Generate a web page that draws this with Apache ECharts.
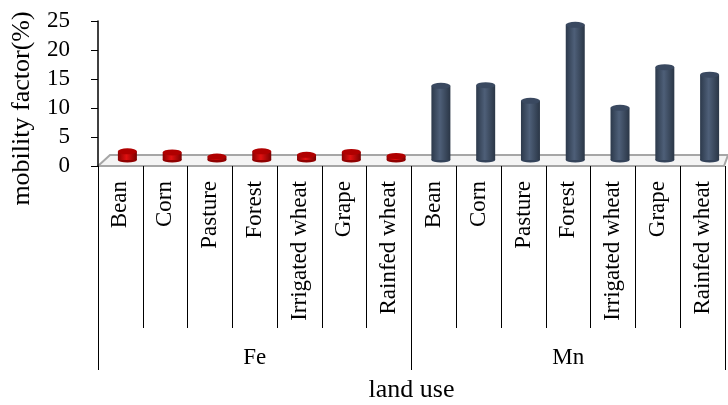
<!DOCTYPE html>
<html>
<head>
<meta charset="utf-8">
<script src="https://cdn.jsdelivr.net/npm/echarts@6/dist/echarts.min.js"></script>
<style>
  html, body { margin: 0; padding: 0; background: #fff; }
  #chart { width: 728px; height: 405px; }
</style>
</head>
<body>
<div id="chart"></div>
<script>
// land use categories (same for both metals)
const landUse = ['Bean', 'Corn', 'Pasture', 'Forest', 'Irrigated wheat', 'Grape', 'Rainfed wheat'];
const metals = ['Fe', 'Mn'];
// mobility factor (%)
const feValues = [1.5, 1.3, 0.6, 1.5, 0.9, 1.4, 0.7];
const mnValues = [12.8, 12.9, 10.2, 23.3, 9.0, 16.0, 14.7];
const yTicks = [0, 5, 10, 15, 20, 25];

const font = 'Liberation Serif';
const categories = landUse.concat(landUse);
const values = feValues.concat(mnValues);

// cylinder colours
const redBody = new echarts.graphic.LinearGradient(0, 0, 1, 0, [
  { offset: 0, color: '#8a0000' }, { offset: 0.45, color: '#e01010' }, { offset: 1, color: '#7a0000' }
]);
const navyBody = new echarts.graphic.LinearGradient(0, 0, 1, 0, [
  { offset: 0, color: '#2c394b' }, { offset: 0.45, color: '#4e5f78' }, { offset: 1, color: '#2a3646' }
]);
const redTop = '#b00000';
const navyTop = '#3a4960';

const bodyData = values.map((v, i) => ({
  value: v,
  itemStyle: { color: i < feValues.length ? redBody : navyBody }
}));
const topData = values.map((v, i) => ({
  value: v,
  itemStyle: { color: i < feValues.length ? redTop : navyTop }
}));
const bottomData = values.map((v, i) => ({
  value: v,
  itemStyle: { color: i < feValues.length ? '#900000' : '#34435a' }
}));

const chart = echarts.init(document.getElementById('chart'));

chart.setOption({
  animation: false,
  textStyle: { fontFamily: font },
  graphic: [
    {
      // floor of the 3D plot
      type: 'polygon',
      z: 0,
      shape: { points: [[98, 166], [110, 155], [728, 155], [724, 166]] },
      style: { fill: '#f4f4f4', stroke: '#a6a6a6', lineWidth: 2 }
    }
  ],
  grid: [
    { left: 98, top: 21, width: 627, height: 145, outerBoundsMode: 'none' },
    { left: 105, top: 15, width: 627, height: 145, outerBoundsMode: 'none' }
  ],
  xAxis: [
    {
      type: 'category',
      gridIndex: 0,
      data: categories,
      axisLine: { show: false },
      axisTick: { show: true, length: 162, lineStyle: { color: '#000' } },
      axisLabel: {
        rotate: 90, margin: 15, interval: 0,
        fontFamily: font, fontSize: 23, color: '#000'
      }
    },
    {
      type: 'category',
      gridIndex: 0,
      position: 'bottom',
      data: metals,
      axisLine: { show: false },
      axisTick: { show: true, length: 204, lineStyle: { color: '#000' } },
      axisLabel: { margin: 180, fontFamily: font, fontSize: 23, color: '#000' },
      name: 'land use',
      nameLocation: 'middle',
      nameGap: 211,
      nameTextStyle: { fontFamily: font, fontSize: 26, color: '#000' }
    },
    {
      type: 'category',
      gridIndex: 1,
      data: categories,
      show: false
    }
  ],
  yAxis: [
    {
      type: 'value',
      gridIndex: 0,
      min: yTicks[0],
      max: yTicks[yTicks.length - 1],
      interval: 5,
      splitLine: { show: false },
      axisLine: { show: true, lineStyle: { color: '#000', width: 1.5 } },
      axisTick: { show: true, inside: false, length: 7, lineStyle: { color: '#000' } },
      axisLabel: { margin: 28, fontFamily: font, fontSize: 23, color: '#000' },
      name: 'mobility factor(%)',
      nameLocation: 'middle',
      nameGap: 63,
      nameRotate: 90,
      nameTextStyle: { fontFamily: font, fontSize: 26, color: '#000', padding: [0, 30, 0, 0] }
    },
    {
      type: 'value',
      gridIndex: 1,
      min: yTicks[0],
      max: yTicks[yTicks.length - 1],
      show: false
    }
  ],
  series: [
    {
      type: 'bar',
      xAxisIndex: 2,
      yAxisIndex: 1,
      barWidth: 19,
      z: 3,
      data: bodyData
    },
    {
      type: 'pictorialBar',
      xAxisIndex: 2,
      yAxisIndex: 1,
      symbol: 'circle',
      symbolSize: [19, 5],
      symbolPosition: 'start',
      symbolOffset: [0, '50%'],
      z: 2,
      data: bottomData
    },
    {
      type: 'pictorialBar',
      xAxisIndex: 2,
      yAxisIndex: 1,
      symbol: 'circle',
      symbolSize: [19, 6],
      symbolPosition: 'end',
      symbolOffset: [0, '-50%'],
      z: 4,
      data: topData
    }
  ]
});
</script>
</body>
</html>
